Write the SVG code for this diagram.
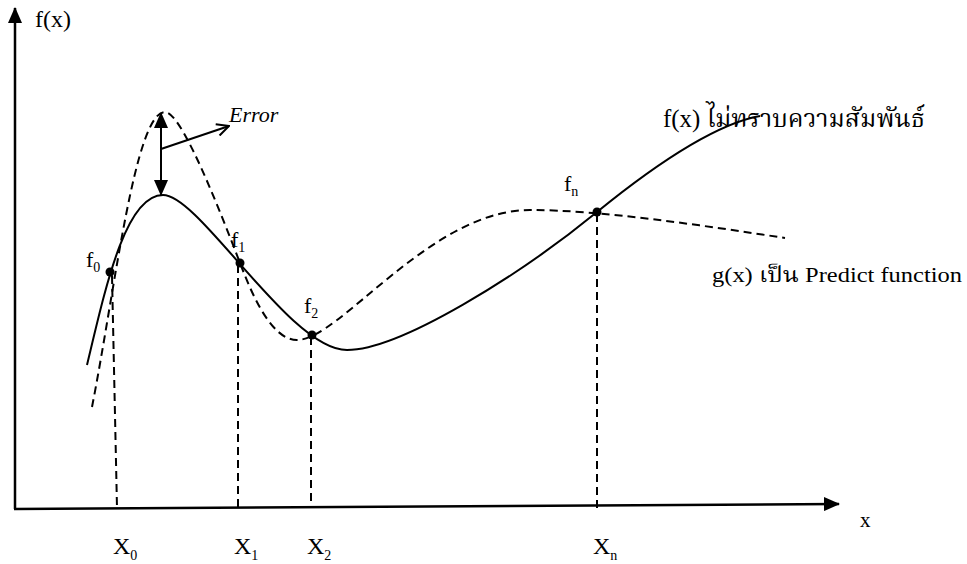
<svg xmlns="http://www.w3.org/2000/svg" width="967" height="564" viewBox="0 0 967 564">
<style>
  .axis{stroke:#000;stroke-width:2.5;fill:none}
  .solid{stroke:#000;stroke-width:2;fill:none}
  .dash{stroke:#000;stroke-width:2;fill:none;stroke-dasharray:8 5}
  .err{stroke:#000;stroke-width:2;fill:none}
  .dot{fill:#000}
  text{font-family:"Liberation Serif","Times New Roman","Noto Serif Thai","Noto Sans Thai",serif;fill:#000}
  .lbl{font-size:24px}
  .sub{font-size:14px}
  .flbl{font-size:22px}
</style>
<defs>
  <marker id="tri" viewBox="0 0 16 14" refX="15" refY="7" markerWidth="16" markerHeight="14" markerUnits="userSpaceOnUse" orient="auto-start-reverse">
    <path d="M0,0 L16,7 L0,14 z" fill="#000"/>
  </marker>
  <marker id="open" viewBox="0 0 14 14" refX="13" refY="7" markerWidth="14" markerHeight="14" markerUnits="userSpaceOnUse" orient="auto">
    <path d="M1,1 L13,7 L1,13" fill="none" stroke="#000" stroke-width="2"/>
  </marker>
</defs>

<g id="axes">
  <line class="axis" x1="15" y1="509" x2="15" y2="8" marker-end="url(#tri)"/>
  <line class="axis" x1="14" y1="509" x2="839" y2="504" marker-end="url(#tri)"/>
  <text x="35" y="27" class="lbl">f(x)</text>
  <text x="860" y="527" style="font-size:21px">x</text>
</g>

<g id="curve-f">
  <path class="solid" d="M87,365 C105,290 125,195 163,195 C200,195 290,350 347,350 C400,350 520,275 597,212 C640,177 710,125 760,116"/>
  <text x="663" y="127" style="font-size:25px" textLength="262" lengthAdjust="spacingAndGlyphs">f(x) ไม่ทราบความสัมพันธ์</text>
</g>

<g id="curve-g">
  <path class="dash" d="M92,407 C115,290 135,112 165,112 C180,112 212,190 240,263 C250,289 270,340 297,340 C340,340 430,210 530,210 C600,210 700,225 785,238"/>
  <text x="712" y="282" style="font-size:21px" textLength="250" lengthAdjust="spacingAndGlyphs">g(x) เป็น Predict function</text>
</g>

<g id="error">
  <line class="err" x1="161" y1="149" x2="161" y2="113" marker-end="url(#tri)"/>
  <line class="err" x1="161" y1="149" x2="161" y2="195" marker-end="url(#tri)"/>
  <line class="err" x1="161" y1="149" x2="229" y2="126" marker-end="url(#open)"/>
  <text x="229" y="122" style="font-size:22px;font-style:italic">Error</text>
</g>

<g id="connectors">
  <line class="dash" x1="112" y1="276" x2="117" y2="508"/>
  <line class="dash" x1="238" y1="265" x2="238" y2="508"/>
  <line class="dash" x1="311" y1="337" x2="311" y2="508"/>
  <line class="dash" x1="597" y1="214" x2="597" y2="508"/>
</g>

<g id="f0">
  <circle class="dot" cx="110" cy="272" r="4.5"/>
  <text x="86" y="267" class="flbl">f<tspan dy="5" class="sub">0</tspan></text>
</g>
<g id="f1">
  <circle class="dot" cx="240" cy="263" r="4.5"/>
  <text x="231" y="247" class="flbl">f<tspan dy="5" class="sub">1</tspan></text>
</g>
<g id="f2">
  <circle class="dot" cx="312" cy="335" r="4.5"/>
  <text x="304" y="313" class="flbl">f<tspan dy="5" class="sub">2</tspan></text>
</g>
<g id="fn">
  <circle class="dot" cx="597" cy="212" r="4.5"/>
  <text x="564" y="191" class="flbl">f<tspan dy="5" class="sub">n</tspan></text>
</g>

<g id="x0"><text x="113" y="554" class="lbl">X<tspan dy="6" class="sub">0</tspan></text></g>
<g id="x1"><text x="234" y="554" class="lbl">X<tspan dy="6" class="sub">1</tspan></text></g>
<g id="x2"><text x="307" y="554" class="lbl">X<tspan dy="6" class="sub">2</tspan></text></g>
<g id="xn"><text x="593" y="554" class="lbl">X<tspan dy="6" class="sub">n</tspan></text></g>
</svg>
